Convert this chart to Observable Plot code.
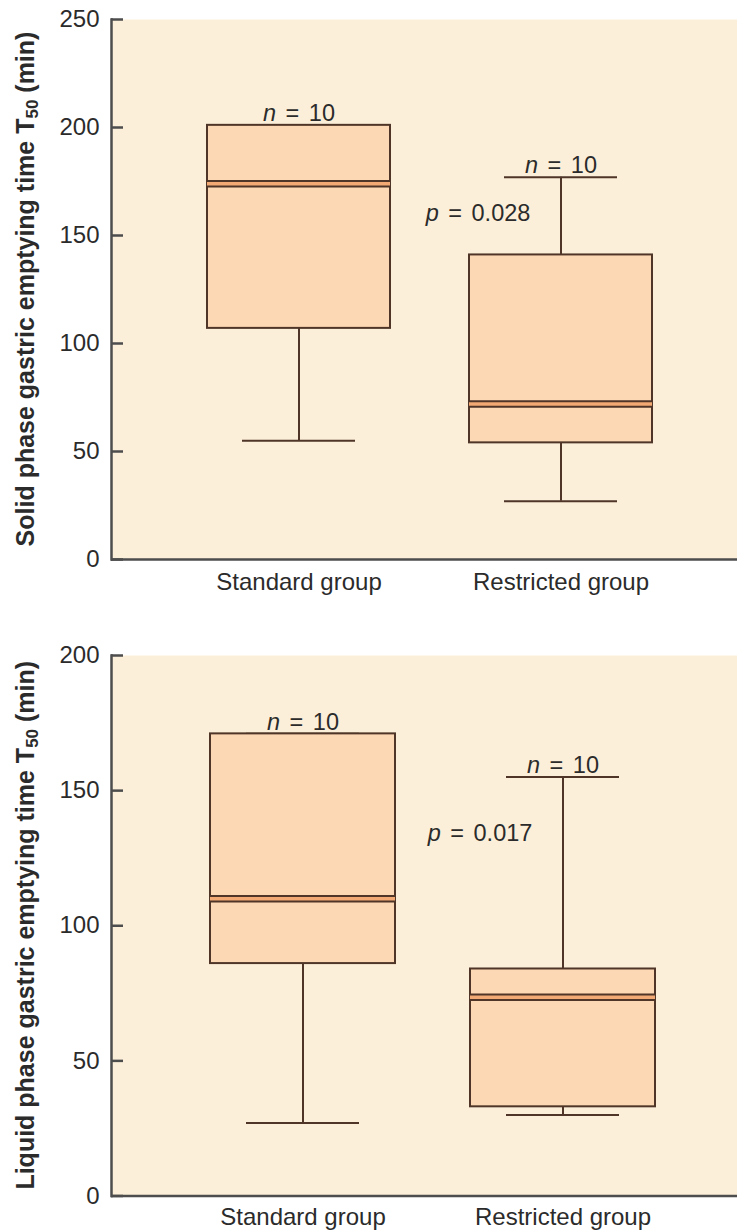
<!DOCTYPE html>
<html><head><meta charset="utf-8">
<script src="https://cdn.jsdelivr.net/npm/d3@7"></script>
<script src="https://cdn.jsdelivr.net/npm/@observablehq/plot@0.6"></script>
<style>
body{margin:0;background:#fff;}
#chart{width:737px;}
svg{display:block;}
</style></head><body><div id="chart"></div>
<script>
// ---- data ----
const groups = ["Standard group", "Restricted group"];
const sampleSizes = [10, 10];

const solidMin = [55, 27];
const solidQ1 = [107, 54];
const solidMedian = [174, 72];
const solidQ3 = [201, 141];
const solidMax = [201, 177];
const solidTicks = [0, 50, 100, 150, 200, 250];
const solidP = "p = 0.028";
const solidTitle = ["Solid phase gastric emptying time T", "50", " (min)"];

const liquidMin = [27, 30];
const liquidQ1 = [86, 33];
const liquidMedian = [110, 73.5];
const liquidQ3 = [171, 84];
const liquidMax = [171, 155];
const liquidTicks = [0, 50, 100, 150, 200];
const liquidP = "p = 0.017";
const liquidTitle = ["Liquid phase gastric emptying time T", "50", " (min)"];

// ---- style ----
const BG = "#fcefd9", BOX = "#fdd8b5", MED = "#f2a974", INK = "#4e3527", AXIS = "#4d4d4d", TXT = "#2b2b2b";
const FONT = "'Liberation Sans', Arial, Helvetica, sans-serif";
const W = 737, ML = 111;

function chart(o) {
  const rows = groups.map((g, i) => ({group: g, n: sampleSizes[i], min: o.min[i], q1: o.q1[i], median: o.median[i], q3: o.q3[i], max: o.max[i]}));
  const sw = 2;
  const svg = Plot.plot({
    width: W, height: o.height,
    marginLeft: ML, marginRight: 0, marginTop: o.marginTop, marginBottom: o.marginBottom,
    style: {background: "transparent", fontFamily: FONT, fontSize: "24px", color: TXT},
    x: {type: "band", domain: groups, range: o.xRange, paddingInner: o.paddingInner, paddingOuter: 0, axis: null},
    y: {domain: [0, o.ticks[o.ticks.length - 1]], axis: null},
    marks: [
      Plot.frame({fill: BG, stroke: null}),
      Plot.ruleX(rows, {x: "group", y1: "min", y2: "q1", stroke: INK, strokeWidth: sw}),
      Plot.ruleX(rows, {x: "group", y1: "q3", y2: "max", stroke: INK, strokeWidth: sw}),
      Plot.tickY(rows, {x: "group", y: "min", insetLeft: o.capInset, insetRight: o.capInset, stroke: INK, strokeWidth: sw}),
      Plot.tickY(rows, {x: "group", y: "max", insetLeft: o.capInset, insetRight: o.capInset, stroke: INK, strokeWidth: sw}),
      Plot.barY(rows, {x: "group", y1: "q1", y2: "q3", fill: BOX, stroke: INK, strokeWidth: sw}),
      Plot.tickY(rows, {x: "group", y: "median", stroke: INK, strokeWidth: 7.5}),
      Plot.tickY(rows, {x: "group", y: "median", stroke: MED, strokeWidth: 3.5}),
      Plot.text(rows, {x: "group", y: "max", text: d => `n = ${d.n}`, lineAnchor: "bottom", dy: -4, fontSize: 23.5, fill: TXT}),
      Plot.text([o.p], {x: () => groups[1], y: () => o.pY, text: d => d, dx: -83, fontSize: 23.5, fill: TXT}),
      Plot.ruleY(o.ticks, {y: d => d, insetRight: W - ML - 12, stroke: AXIS, strokeWidth: 2.5}),
      Plot.ruleY([0], {stroke: AXIS, strokeWidth: 2.5}),
      Plot.frame({anchor: "left", stroke: AXIS, strokeWidth: 2.5}),
      Plot.axisY({ticks: o.ticks, tickSize: 0, tickPadding: 12, label: null, fontSize: 24, fill: TXT}),
      Plot.axisX({tickSize: 0, tickPadding: o.tickPadding, label: null, fontSize: 24, fill: TXT})
    ]
  });
  // italic n / p
  d3.select(svg).selectAll("text").each(function() {
    const t = this.textContent;
    if (/^[np] = /.test(t)) {
      const el = d3.select(this);
      el.text(null).attr("word-spacing", "3px");
      el.append("tspan").attr("font-style", "italic").text(t[0]);
      el.append("tspan").text(t.slice(1));
    }
  });
  // y title
  const cy = (o.marginTop + o.height - o.marginBottom) / 2;
  const tt = d3.select(svg).append("text")
    .attr("transform", `translate(34,${cy}) rotate(-90)`)
    .attr("text-anchor", "middle")
    .attr("font-family", FONT).attr("font-weight", "bold").attr("font-size", 25).attr("fill", TXT);
  tt.append("tspan").text(o.title[0]);
  tt.append("tspan").attr("font-size", 17).attr("dy", 4).text(o.title[1]);
  tt.append("tspan").attr("dy", -4).text(o.title[2]);
  return svg;
}

const root = document.getElementById("chart");
root.appendChild(chart({
  min: solidMin, q1: solidQ1, median: solidMedian, q3: solidQ3, max: solidMax,
  ticks: solidTicks, p: solidP, pY: 160, title: solidTitle,
  height: 600, marginTop: 19, marginBottom: 41,
  xRange: [206, 653], paddingInner: 0.3, capInset: 35, tickPadding: 13
}));
root.appendChild(chart({
  min: liquidMin, q1: liquidQ1, median: liquidMedian, q3: liquidQ3, max: liquidMax,
  ticks: liquidTicks, p: liquidP, pY: 134, title: liquidTitle,
  height: 630, marginTop: 55, marginBottom: 34.5,
  xRange: [210, 656], paddingInner: 0.288, capInset: 36, tickPadding: 11.5
}));
</script></body></html>
